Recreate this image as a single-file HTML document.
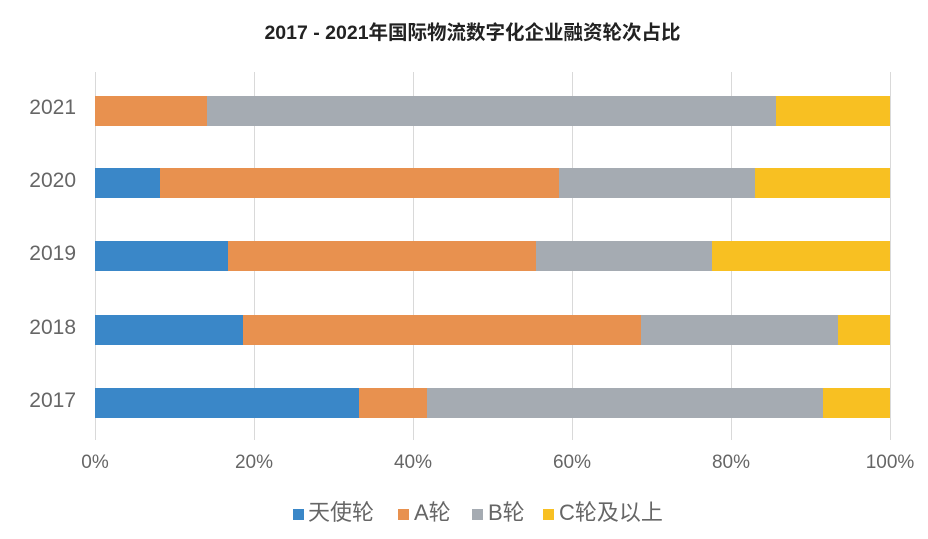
<!DOCTYPE html>
<html><head><meta charset="utf-8"><style>
body{margin:0;width:928px;height:539px;background:#fff;position:relative;overflow:hidden;font-family:"Liberation Sans","Noto Sans CJK SC",sans-serif;color:#595959}
.a{position:absolute}
.g{position:absolute;top:72px;width:1px;height:368px;background:#d9d9d9}
.b{position:absolute;height:30px}
.y{position:absolute;left:16px;width:60px;text-align:right;font-size:21px;color:#666}
.x{position:absolute;top:452px;width:60px;text-align:center;font-size:19px;margin-left:-30px;color:#666}
.sq{position:absolute;top:509px;width:11px;height:11px}
.lt{position:absolute;top:499px;font-size:22px;line-height:28px;color:#666}
</style></head><body>
<div class="a" style="left:0;width:945px;top:16px;text-align:center;font-size:19.5px;font-weight:bold;color:#222">2017 - 2021年国际物流数字化企业融资轮次占比</div>
<div class="g" style="left:95px"></div><div class="g" style="left:254px"></div><div class="g" style="left:413px"></div><div class="g" style="left:572px"></div><div class="g" style="left:731px"></div><div class="g" style="left:890px"></div>

<div class="b" style="top:96px;left:95px;width:112px;background:#E8914F"></div>
<div class="b" style="top:96px;left:207px;width:569px;background:#A5ABB2"></div>
<div class="b" style="top:96px;left:776px;width:114px;background:#F8C022"></div>

<div class="b" style="top:168px;left:95px;width:65px;background:#3A87C8"></div>
<div class="b" style="top:168px;left:160px;width:399px;background:#E8914F"></div>
<div class="b" style="top:168px;left:559px;width:196px;background:#A5ABB2"></div>
<div class="b" style="top:168px;left:755px;width:135px;background:#F8C022"></div>

<div class="b" style="top:241px;left:95px;width:133px;background:#3A87C8"></div>
<div class="b" style="top:241px;left:228px;width:308px;background:#E8914F"></div>
<div class="b" style="top:241px;left:536px;width:176px;background:#A5ABB2"></div>
<div class="b" style="top:241px;left:712px;width:178px;background:#F8C022"></div>

<div class="b" style="top:315px;left:95px;width:148px;background:#3A87C8"></div>
<div class="b" style="top:315px;left:243px;width:398px;background:#E8914F"></div>
<div class="b" style="top:315px;left:641px;width:197px;background:#A5ABB2"></div>
<div class="b" style="top:315px;left:838px;width:52px;background:#F8C022"></div>

<div class="b" style="top:388px;left:95px;width:264px;background:#3A87C8"></div>
<div class="b" style="top:388px;left:359px;width:68px;background:#E8914F"></div>
<div class="b" style="top:388px;left:427px;width:396px;background:#A5ABB2"></div>
<div class="b" style="top:388px;left:823px;width:67px;background:#F8C022"></div>

<div class="y" style="top:96px">2021</div>
<div class="y" style="top:169px">2020</div>
<div class="y" style="top:242px">2019</div>
<div class="y" style="top:316px">2018</div>
<div class="y" style="top:389px">2017</div>

<div class="x" style="left:95px">0%</div><div class="x" style="left:254px">20%</div><div class="x" style="left:413px">40%</div><div class="x" style="left:572px">60%</div><div class="x" style="left:731px">80%</div><div class="x" style="left:890px">100%</div>

<div class="sq" style="left:293px;background:#3A87C8"></div><div class="lt" style="left:308px">天使轮</div>
<div class="sq" style="left:398px;background:#E8914F"></div><div class="lt" style="left:414px">A轮</div>
<div class="sq" style="left:472px;background:#A5ABB2"></div><div class="lt" style="left:488px">B轮</div>
<div class="sq" style="left:543px;background:#F8C022"></div><div class="lt" style="left:559px">C轮及以上</div>
</body></html>
